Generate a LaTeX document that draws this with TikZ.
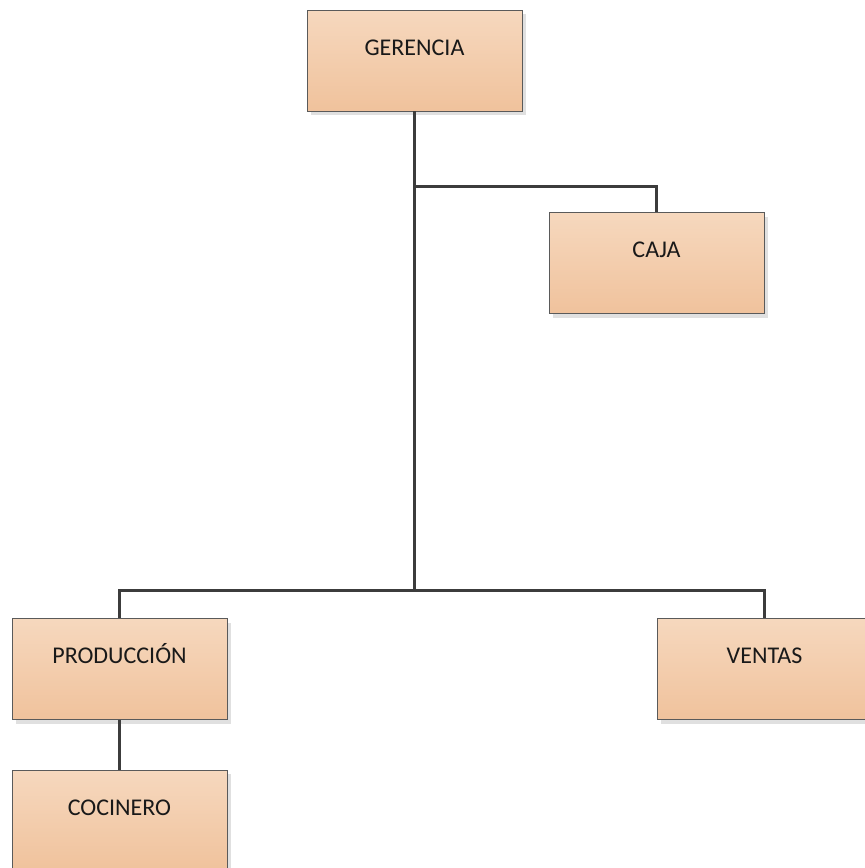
\documentclass[tikz,border=0pt]{standalone}
\usepackage{fontspec}
\setmainfont{Carlito}
\usepackage{tikz}
\usepackage{xcolor}
\usetikzlibrary{shadows, positioning}

\definecolor{boxtop}{RGB}{246,216,190}
\definecolor{boxbot}{RGB}{240,194,156}
\definecolor{boxline}{RGB}{90,90,90}
\definecolor{linkline}{RGB}{60,60,60}

\tikzset{
    unit/.style={draw=boxline, line width=0.8pt, top color=boxtop, bottom color=boxbot,
        minimum width=215pt, minimum height=101pt, inner sep=0pt,
        text height=16pt, text depth=27pt, text=black!90,
        font=\fontsize{24}{28}\selectfont,
        drop shadow={shadow xshift=4pt, shadow yshift=-4pt, fill=black!12, opacity=1}},
    link/.style={draw=linkline, line width=3pt}
}

\begin{document}
\begin{tikzpicture}[x=1pt, y=-1pt]
                        \useasboundingbox (0, 0) rectangle (865, 868);

                        \node[unit] (ger) at (414.5, 60.5) {GERENCIA};
                        \node[unit] (caja) at (656.5, 263) {CAJA};
                        \node[unit] (prod) at (119.5, 669) {PRODUCCIÓN};
                        \node[unit] (vent) at (764.5, 669) {VENTAS};
                        \node[unit] (coc) at (119.5, 820.5) {COCINERO};

                        \coordinate (split) at (414.5, 186);
                        \coordinate (trunk) at (414.5, 590);

                        \draw[link]
                        (ger) -- (trunk)
                        (split) -| (caja)
                        (trunk) -| (prod)
                        (trunk) -| (vent)
                        (prod) -- (coc);
                    \end{tikzpicture}
\end{document}
